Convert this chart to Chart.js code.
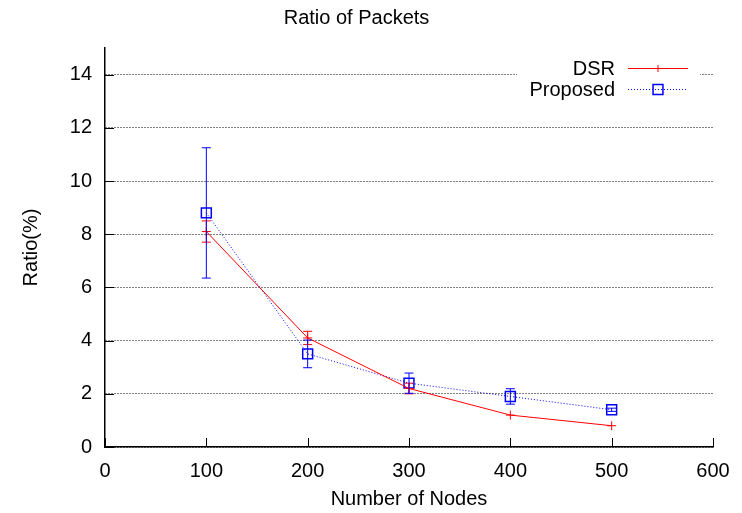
<!DOCTYPE html>
<html>
<head>
<meta charset="utf-8">
<script src="https://cdn.jsdelivr.net/npm/chart.js@4"></script>
<style>
  html, body { margin: 0; padding: 0; background: #fff; }
  #wrap { width: 742px; height: 513px; }
</style>
</head>
<body>
<div id="wrap"><canvas id="packetsChart" width="742" height="513"></canvas></div>
<script>
// values
const nodes = [100, 200, 300, 400, 500];
const dsr = [8.1, 4.1, 2.2, 1.2, 0.8];
const dsrErr = [0.4, 0.25, 0.2, 0, 0];
const proposed = [8.8, 3.5, 2.4, 1.9, 1.4];
const proposedErr = [2.45, 0.52, 0.38, 0.29, 0.06];
const errors = [dsrErr, proposedErr];

const FONT = "'Liberation Sans', Arial, sans-serif";

// error bars, drawn through the scales
const errorBars = {
    id: "errorBars",
    afterDatasetsDraw(chart) {
        const ctx = chart.ctx;
        const xs = chart.scales.x, ys = chart.scales.y;
        chart.data.datasets.forEach((ds, i) => {
            const err = errors[i];
            ctx.save();
            ctx.strokeStyle = ds.borderColor;
            ctx.lineWidth = 1;
            ds.data.forEach((p, j) => {
                if (!err[j]) return;
                const x = xs.getPixelForValue(p.x);
                const y1 = ys.getPixelForValue(p.y - err[j]);
                const y2 = ys.getPixelForValue(p.y + err[j]);
                ctx.beginPath();
                ctx.moveTo(x, y1); ctx.lineTo(x, y2);
                ctx.moveTo(x - 4.5, y1); ctx.lineTo(x + 4.5, y1);
                ctx.moveTo(x - 4.5, y2); ctx.lineTo(x + 4.5, y2);
                ctx.stroke();
            });
            ctx.restore();
        });
    }
};

// inward tick marks like gnuplot
const innerTicks = {
    id: "innerTicks",
    afterDraw(chart) {
        const ctx = chart.ctx;
        const xs = chart.scales.x, ys = chart.scales.y;
        const a = chart.chartArea;
        ctx.save();
        ctx.strokeStyle = "#000";
        ctx.lineWidth = 1;
        ctx.beginPath();
        xs.ticks.forEach(t => {
            const x = Math.round(xs.getPixelForValue(t.value)) + 0.5;
            ctx.moveTo(x, a.bottom); ctx.lineTo(x, a.bottom - 9);
        });
        ys.ticks.forEach(t => {
            const y = Math.round(ys.getPixelForValue(t.value)) + 0.5;
            ctx.moveTo(a.left, y); ctx.lineTo(a.left + 9, y);
        });
        ctx.stroke();
        ctx.restore();
    }
};

// legend in the upper right corner
const cornerLegend = {
    id: "cornerLegend",
    afterDraw(chart) {
        const ctx = chart.ctx;
        const a = chart.chartArea;
        ctx.save();
        ctx.fillStyle = "#fff";
        ctx.fillRect(a.right - 196, a.top + 9, 183, 43);
        ctx.font = "20px " + FONT;
        ctx.textAlign = "right";
        ctx.textBaseline = "middle";
        chart.data.datasets.forEach((ds, i) => {
            const y = a.top + 20 + i * 21;
            const x0 = a.right - 85, x1 = a.right - 25, xm = (x0 + x1) / 2;
            ctx.fillStyle = "#000";
            ctx.fillText(ds.label, a.right - 98, y + 1);
            ctx.strokeStyle = ds.borderColor;
            ctx.lineWidth = 1;
            ctx.setLineDash(ds.borderDash || []);
            ctx.beginPath();
            ctx.moveTo(x0, y + 0.5); ctx.lineTo(x1, y + 0.5);
            ctx.stroke();
            ctx.setLineDash([]);
            ctx.fillStyle = "rgba(0,0,0,0)";
            ctx.lineWidth = ds.pointBorderWidth;
            Chart.helpers.drawPoint(ctx, {
                pointStyle: ds.pointStyle,
                radius: ds.pointStyle === "cross" ? 3.5 : ds.pointRadius,
                borderWidth: ds.pointBorderWidth
            }, xm, y + 0.5);
        });
        ctx.restore();
    }
};

new Chart(document.getElementById("packetsChart"), {
    type: "line",
    data: {
        datasets: [
            {
                label: "DSR",
                data: nodes.map((n, i) => ({ x: n, y: dsr[i] })),
                borderColor: "#ff0000",
                backgroundColor: "#ff0000",
                borderWidth: 1,
                pointStyle: "cross",
                pointRadius: 4.5,
                pointBorderWidth: 1
            },
            {
                label: "Proposed",
                data: nodes.map((n, i) => ({ x: n, y: proposed[i] })),
                borderColor: "#0000ff",
                backgroundColor: "rgba(0,0,0,0)",
                borderWidth: 1,
                borderDash: [1, 2],
                pointStyle: "rect",
                pointRadius: 7,
                pointBorderWidth: 1.5
            }
        ]
    },
    options: {
        responsive: false,
        animation: false,
        layout: { padding: { left: 0, right: 29, top: 0, bottom: 0 } },
        plugins: {
            legend: { display: false },
            tooltip: { enabled: false },
            title: {
                display: true,
                text: "Ratio of Packets",
                color: "#000",
                font: { family: FONT, size: 20, weight: "normal" },
                padding: { top: 6, bottom: 18 }
            }
        },
        scales: {
            x: {
                type: "linear",
                min: 0,
                max: 600,
                afterFit: s => { s.height = 66; },
                ticks: { stepSize: 100, color: "#000", padding: 12, font: { family: FONT, size: 20 } },
                grid: { display: false, drawTicks: false },
                border: { display: true, color: "#000", width: 1.5 },
                title: {
                    display: true,
                    text: "Number of Nodes",
                    color: "#000",
                    font: { family: FONT, size: 20 },
                    padding: { top: 0, bottom: 2 }
                }
            },
            y: {
                min: 0,
                max: 15,
                afterFit: s => { s.width = 105; },
                ticks: { stepSize: 2, includeBounds: false, color: "#000", padding: 13, font: { family: FONT, size: 20 } },
                grid: { color: "#000", lineWidth: 1, drawTicks: false },
                border: { display: true, color: "#000", width: 1.5, dash: [1, 2] },
                title: {
                    display: true,
                    text: "Ratio(%)",
                    color: "#000",
                    font: { family: FONT, size: 20 },
                    padding: { top: 19, bottom: 0 }
                }
            }
        }
    },
    plugins: [errorBars, innerTicks, cornerLegend]
});
</script>
</body>
</html>
